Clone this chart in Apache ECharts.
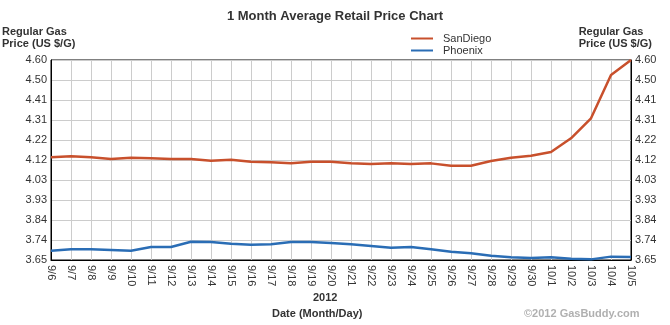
<!DOCTYPE html>
<html>
<head>
<meta charset="utf-8">
<script src="https://cdn.jsdelivr.net/npm/echarts@6/dist/echarts.min.js"></script>
<style>html,body{margin:0;padding:0;background:#fff}#c{width:670px;height:325px}</style>
</head>
<body>
<div id="c"></div>
<script>
const categories = ['9/6','9/7','9/8','9/9','9/10','9/11','9/12','9/13','9/14','9/15','9/16','9/17','9/18','9/19','9/20','9/21','9/22','9/23','9/24','9/25','9/26','9/27','9/28','9/29','9/30','10/1','10/2','10/3','10/4','10/5'];
const sanDiego = [4.138,4.143,4.138,4.130,4.136,4.133,4.130,4.130,4.122,4.126,4.117,4.114,4.109,4.117,4.117,4.109,4.106,4.109,4.106,4.109,4.098,4.098,4.120,4.136,4.145,4.163,4.228,4.323,4.529,4.600];
const phoenix = [3.694,3.701,3.701,3.698,3.694,3.712,3.712,3.737,3.736,3.727,3.723,3.725,3.736,3.736,3.731,3.725,3.717,3.708,3.712,3.701,3.689,3.682,3.670,3.663,3.660,3.663,3.656,3.653,3.666,3.664];
const yTickLabels = ['3.65','3.74','3.84','3.93','4.03','4.12','4.22','4.31','4.41','4.50','4.60'];
const yMin = 3.65, yMax = 4.60, yStep = 0.095;

const font = '"Liberation Sans", Arial, sans-serif';
const fmt = v => { const i = Math.round((v - yMin) / yStep); return yTickLabels[i] !== undefined ? yTickLabels[i] : ''; };

const chart = echarts.init(document.getElementById('c'), null, {renderer: 'canvas'});
chart.setOption({
  animation: false,
  backgroundColor: '#fff',
  textStyle: {fontFamily: font},
  title: {
    text: '1 Month Average Retail Price Chart',
    left: 'center', top: 5,
    textStyle: {fontFamily: font, fontSize: 13, fontWeight: 'bold', color: '#333'}
  },
  legend: {
    orient: 'vertical', left: 406, top: 28, itemGap: 1,
    icon: 'rect', itemWidth: 22, itemHeight: 2,
    textStyle: {fontFamily: font, fontSize: 11, color: '#333', padding: [0,0,0,5]},
    data: ['SanDiego','Phoenix']
  },
  grid: {left: 51, right: 39, top: 60, bottom: 65, show: true, borderColor: '#000', borderWidth: 1, containLabel: false},
  xAxis: {
    type: 'category', data: categories, boundaryGap: false,
    axisLine: {lineStyle: {color: '#000'}},
    axisTick: {show: false},
    axisLabel: {rotate: -90, fontSize: 11, color: '#333', margin: 5, fontFamily: font},
    splitLine: {show: true, lineStyle: {color: '#ccc'}}
  },
  yAxis: [
    {type: 'value', min: yMin, max: yMax, interval: yStep, position: 'left',
     axisLine: {show: true, lineStyle: {color: '#000'}}, axisTick: {show: false},
     axisLabel: {formatter: fmt, fontSize: 11, color: '#333', margin: 4, fontFamily: font},
     splitLine: {show: true, lineStyle: {color: '#ccc'}}},
    {type: 'value', min: yMin, max: yMax, interval: yStep, position: 'right',
     axisLine: {show: true, lineStyle: {color: '#000'}}, axisTick: {show: false},
     axisLabel: {formatter: fmt, fontSize: 11, color: '#333', margin: 4, fontFamily: font},
     splitLine: {show: false}}
  ],
  series: [
    {name: 'SanDiego', type: 'line', data: sanDiego, showSymbol: false, yAxisIndex: 0,
     lineStyle: {color: '#c8502c', width: 2.5}, itemStyle: {color: '#c8502c'}},
    {name: 'Phoenix', type: 'line', data: phoenix, showSymbol: false, yAxisIndex: 0,
     lineStyle: {color: '#2a6db5', width: 2.5}, itemStyle: {color: '#2a6db5'}}
  ],
  graphic: [
    {type: 'text', left: 2, top: 26, style: {text: 'Regular Gas\nPrice (US $/G)', font: 'bold 11px ' + font, fill: '#333', lineHeight: 12, align: 'center'}},
    {type: 'text', right: 18, top: 26, style: {text: 'Regular Gas\nPrice (US $/G)', font: 'bold 11px ' + font, fill: '#333', lineHeight: 12, align: 'center'}},
    {type: 'text', left: 313, top: 292, style: {text: '2012', font: 'bold 11px ' + font, fill: '#333'}},
    {type: 'text', left: 272, top: 308, style: {text: 'Date (Month/Day)', font: 'bold 11px ' + font, fill: '#333'}},
    {type: 'text', left: 524, top: 308, style: {text: '\u00A92012 GasBuddy.com', font: 'bold 11px ' + font, fill: '#b0b0b0'}}
  ]
});
</script>
</body>
</html>
